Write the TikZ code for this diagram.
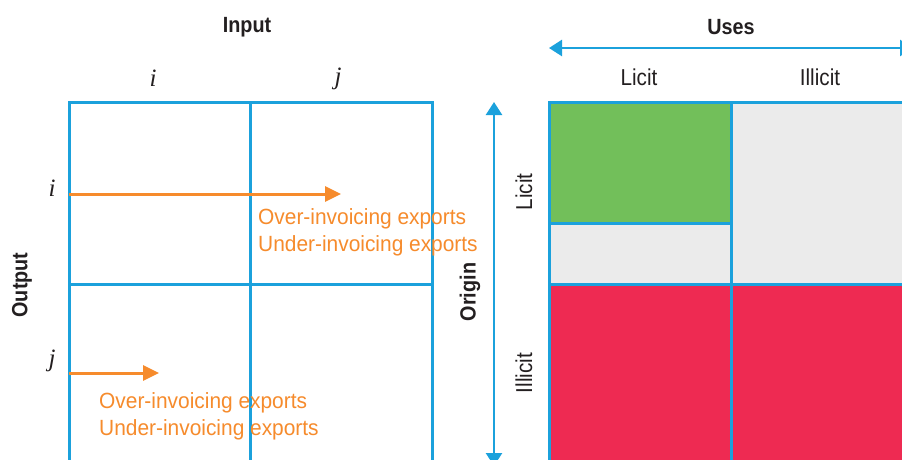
\documentclass[tikz,border=0pt]{standalone}
\usepackage{fontspec}
\setmainfont{Liberation Sans}[FakeStretch=0.9]
\newfontfamily\orfont{Liberation Sans}[FakeStretch=0.95]
\newfontfamily\serfont{Liberation Serif}
\usetikzlibrary{arrows.meta}
\definecolor{gblue}{HTML}{1BA1DC}
\definecolor{gorange}{HTML}{F68B2C}
\definecolor{ggreen}{HTML}{72BF5A}
\definecolor{gred}{HTML}{EE2A52}
\definecolor{ggray}{HTML}{EBEBEB}
\definecolor{gtext}{HTML}{231F20}
\begin{document}
\begin{tikzpicture}[x=1pt,y=-1pt,
  gridline/.style={draw=gblue,line width=3pt},
  bluearrow/.style={draw=gblue,line width=2.5pt,{Triangle[width=16pt,length=13pt]}-{Triangle[width=16pt,length=13pt]}},
  orarrow/.style={draw=gorange,line width=3pt,-{Triangle[width=15pt,length=16pt]}},
  boldlbl/.style={font=\fontsize{22}{24}\selectfont\bfseries,text=gtext,inner sep=0pt},
  lbl/.style={font=\fontsize{23}{25}\selectfont,text=gtext,inner sep=0pt},
  mathlbl/.style={font=\serfont\itshape\fontsize{25}{27}\selectfont,text=gtext,inner sep=0pt},
  ortext/.style={font=\orfont\fontsize{22}{27.5}\selectfont,text=gorange,align=left,anchor=north west,inner sep=0pt},
]
\useasboundingbox (0,0) rectangle (902,459);
\fill[white] (0,0) rectangle (902,459);

% ---------- left matrix ----------
\draw[gridline] (69,102) rectangle (432,470);
\draw[gridline] (250,102) -- (250,470);
\draw[gridline] (69,284) -- (432,284);

\node[boldlbl] (input) at (247,27) {Input};
\node[mathlbl] (ci) at (153,78) {i};
\node[mathlbl] (cj) at (338,79) {j};
\node[mathlbl] (ri) at (52,188) {i};
\node[mathlbl] (rj) at (52,361) {j};
\node[boldlbl,rotate=90] (output) at (22,285) {Output};

\coordinate (a1s) at (69,194);
\coordinate (a1e) at (341,194);
\coordinate (a2s) at (69,373);
\coordinate (a2e) at (159,373);
\draw[orarrow] (a1s) -- (a1e);
\draw[orarrow] (a2s) -- (a2e);
\node[ortext] (t1) at (258,208) {Over-invoicing exports\\Under-invoicing exports};
\node[ortext] (t2) at (99,392) {Over-invoicing exports\\Under-invoicing exports};

% ---------- right matrix ----------
\fill[ggreen] (549,102) rectangle (731,223);
\fill[ggray] (549,223) rectangle (731,284);
\fill[ggray] (731,102) rectangle (912,284);
\fill[gred] (549,284) rectangle (912,470);
\draw[gridline] (549,470) -- (549,102) -- (912,102);
\draw[gridline] (731,102) -- (731,470);
\draw[gridline] (549,223) -- (731,223);
\draw[gridline] (549,284) -- (912,284);

\node[boldlbl] (uses) at (731,27) {Uses};
\coordinate (ul) at (549,48);
\coordinate (ur) at (913,48);
\draw[bluearrow] (ul) -- (ur);
\node[lbl] (clicit) at (639,77) {Licit};
\node[lbl] (cillicit) at (820,77) {Illicit};

\coordinate (ot) at (494,102);
\coordinate (ob) at (494,466);
\draw[bluearrow] (ot) -- (ob);
\node[boldlbl,rotate=90] (origin) at (470,292) {Origin};
\node[lbl,rotate=90] (rlicit) at (524,192) {Licit};
\node[lbl,rotate=90] (rillicit) at (524,373) {Illicit};
\end{tikzpicture}
\end{document}
